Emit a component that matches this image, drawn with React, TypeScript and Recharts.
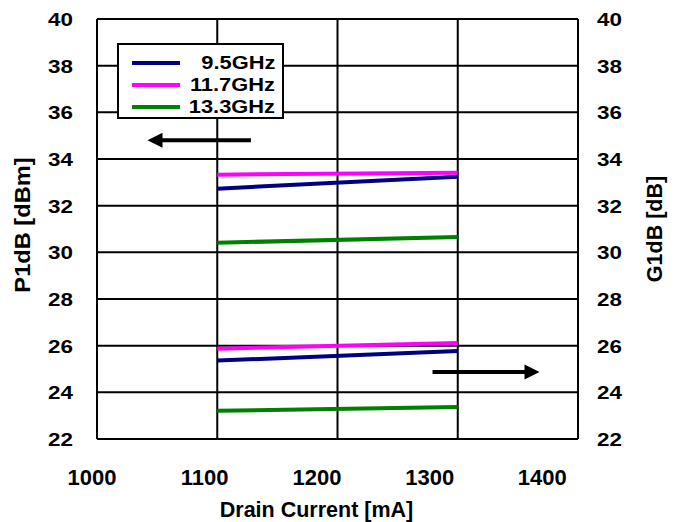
import React from 'react';
import { LineChart, Line, XAxis, YAxis, CartesianGrid, ReferenceLine } from 'recharts';

const current = [1100, 1300];
const seriesNames = ['9.5GHz', '11.7GHz', '13.3GHz'];
const seriesColors = ['#000080', '#FF00FF', '#008000'];
const p1dB_95 = [32.73, 33.24];
const p1dB_117 = [33.33, 33.41];
const p1dB_133 = [30.41, 30.66];
const g1dB_95 = [25.36, 25.77];
const g1dB_117 = [25.87, 26.11];
const g1dB_133 = [23.21, 23.37];
const xTicks = [1000, 1100, 1200, 1300, 1400];
const yTicks = [22, 24, 26, 28, 30, 32, 34, 36, 38, 40];
const leftArrow = { x1: 1042, x2: 1128, y: 34.8 };
const rightArrow = { x1: 1279, x2: 1368, y: 24.87 };

const data = current.map((x, i) => ({
  x,
  p95: p1dB_95[i],
  p117: p1dB_117[i],
  p133: p1dB_133[i],
  g95: g1dB_95[i],
  g117: g1dB_117[i],
  g133: g1dB_133[i],
}));

const FONT = '"Liberation Sans", Arial, sans-serif';
const W = 675;
const H = 522;

const XTick = (props: any) => {
  const { x, y, payload, index } = props;
  const shift = -5 - 7.7 * index;
  return (
    <text x={x + shift} y={y + 38} textAnchor="middle" fontFamily={FONT} fontWeight="bold" fontSize={22} fill="#000">
      {payload.value}
    </text>
  );
};

const YTickLeft = (props: any) => {
  const { x, y, payload } = props;
  return (
    <g transform={`translate(${x - 16},${y}) scale(1.18,1)`}>
      <text x={0} y={0} textAnchor="end" dominantBaseline="central" fontFamily={FONT} fontWeight="bold" fontSize={19} fill="#000">
        {payload.value}
      </text>
    </g>
  );
};

const YTickRight = (props: any) => {
  const { x, y, payload } = props;
  return (
    <g transform={`translate(${x + 11},${y}) scale(1.18,1)`}>
      <text x={0} y={0} textAnchor="start" dominantBaseline="central" fontFamily={FONT} fontWeight="bold" fontSize={19} fill="#000">
        {payload.value}
      </text>
    </g>
  );
};

const arrowShape = (dir: 'left' | 'right') => (props: any) => {
  const { x1, y1, x2, y2 } = props;
  const xa = Math.min(x1, x2);
  const xb = Math.max(x1, x2);
  const y = (y1 + y2) / 2;
  const head = 15;
  const half = 7.5;
  if (dir === 'left') {
    return (
      <g>
        <line x1={xa + head - 1} y1={y} x2={xb} y2={y} stroke="#000" strokeWidth={4} />
        <polygon points={`${xa},${y} ${xa + head},${y - half} ${xa + head},${y + half}`} fill="#000" />
      </g>
    );
  }
  return (
    <g>
      <line x1={xa} y1={y} x2={xb - head + 1} y2={y} stroke="#000" strokeWidth={4} />
      <polygon points={`${xb},${y} ${xb - head},${y - half} ${xb - head},${y + half}`} fill="#000" />
    </g>
  );
};

const leftTitle = (props: any) => {
  const { viewBox } = props;
  const cx = viewBox.x + 23;
  const cy = viewBox.y + viewBox.height / 2 - 4;
  return (
    <g transform={`translate(${cx},${cy}) rotate(-90) scale(1.1,1)`}>
      <text x={0} y={0} textAnchor="middle" dominantBaseline="central" fontFamily={FONT} fontWeight="bold" fontSize={21.5} fill="#000">
        P1dB [dBm]
      </text>
    </g>
  );
};

const rightTitle = (props: any) => {
  const { viewBox } = props;
  const cx = viewBox.x + 77;
  const cy = viewBox.y + viewBox.height / 2;
  return (
    <text x={cx} y={cy} transform={`rotate(-90 ${cx} ${cy})`} textAnchor="middle" dominantBaseline="central" fontFamily={FONT} fontWeight="bold" fontSize={21.5} fill="#000">
      G1dB [dB]
    </text>
  );
};

const xTitle = (props: any) => {
  const { viewBox } = props;
  const cx = viewBox.x + viewBox.width / 2 - 21;
  const cy = viewBox.y + 71;
  return (
    <text x={cx} y={cy} textAnchor="middle" dominantBaseline="central" fontFamily={FONT} fontWeight="bold" fontSize={21.5} fill="#000">
      Drain Current [mA]
    </text>
  );
};

export default function App() {
  return (
    <div style={{ position: 'absolute', left: 0, top: 0, width: W, height: H, background: '#fff' }}>
      <LineChart width={W} height={H} data={data} margin={{ top: 19, right: 0, bottom: 23, left: 0 }}>
        <CartesianGrid yAxisId="left" stroke="#000" strokeWidth={2} />
        <XAxis
          dataKey="x"
          type="number"
          domain={[1000, 1400]}
          ticks={xTicks}
          tick={<XTick />}
          tickLine={false}
          axisLine={{ stroke: '#000', strokeWidth: 2 }}
          height={60}
          interval={0}
          label={{ content: xTitle }}
        />
        <YAxis
          yAxisId="left"
          orientation="left"
          domain={[22, 40]}
          ticks={yTicks}
          tick={<YTickLeft />}
          tickLine={false}
          axisLine={{ stroke: '#000', strokeWidth: 2 }}
          width={97}
          interval={0}
          label={{ content: leftTitle }}
        />
        <YAxis
          yAxisId="right"
          orientation="right"
          domain={[22, 40]}
          ticks={yTicks}
          tick={<YTickRight />}
          tickLine={false}
          axisLine={{ stroke: '#000', strokeWidth: 2 }}
          width={97}
          interval={0}
          label={{ content: rightTitle }}
        />
        <Line yAxisId="left" dataKey="p117" stroke={seriesColors[1]} strokeWidth={4} dot={false} isAnimationActive={false} />
        <Line yAxisId="left" dataKey="p95" stroke={seriesColors[0]} strokeWidth={4} dot={false} isAnimationActive={false} />
        <Line yAxisId="left" dataKey="p133" stroke={seriesColors[2]} strokeWidth={4} dot={false} isAnimationActive={false} />
        <Line yAxisId="right" dataKey="g117" stroke={seriesColors[1]} strokeWidth={4} dot={false} isAnimationActive={false} />
        <Line yAxisId="right" dataKey="g95" stroke={seriesColors[0]} strokeWidth={4} dot={false} isAnimationActive={false} />
        <Line yAxisId="right" dataKey="g133" stroke={seriesColors[2]} strokeWidth={4} dot={false} isAnimationActive={false} />
        <ReferenceLine
          yAxisId="left"
          segment={[{ x: leftArrow.x1, y: leftArrow.y }, { x: leftArrow.x2, y: leftArrow.y }]}
          shape={arrowShape('left')}
        />
        <ReferenceLine
          yAxisId="right"
          segment={[{ x: rightArrow.x1, y: rightArrow.y }, { x: rightArrow.x2, y: rightArrow.y }]}
          shape={arrowShape('right')}
        />
      </LineChart>
      <div
        style={{
          position: 'absolute',
          left: 117,
          top: 43,
          width: 163,
          height: 72,
          border: '2px solid #000',
          background: '#fff',
          fontFamily: FONT,
          fontWeight: 'bold',
          fontSize: 19,
          boxSizing: 'content-box',
        }}
      >
        {seriesNames.map((name, i) => (
          <div key={name} style={{ position: 'absolute', left: 0, top: 7 + i * 22, width: 156, height: 22 }}>
            <div style={{ position: 'absolute', left: 13, top: 9, width: 48, height: 4, background: seriesColors[i] }} />
            <div
              style={{
                position: 'absolute',
                right: 0,
                top: 0,
                lineHeight: '22px',
                transform: 'scale(1.15,1)',
                transformOrigin: 'right center',
                whiteSpace: 'nowrap',
              }}
            >
              {name}
            </div>
          </div>
        ))}
      </div>
    </div>
  );
}
